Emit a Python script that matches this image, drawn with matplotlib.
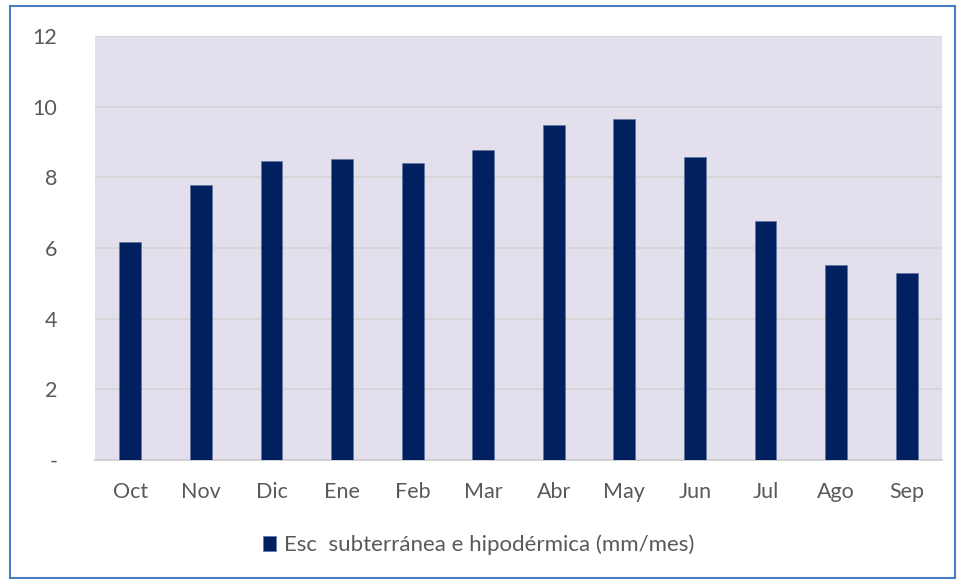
import matplotlib
matplotlib.use("Agg")
import matplotlib.pyplot as plt
from matplotlib.patches import Rectangle

months = ["Oct", "Nov", "Dic", "Ene", "Feb", "Mar", "Abr", "May", "Jun", "Jul", "Ago", "Sep"]
esc = [6.17, 7.78, 8.46, 8.52, 8.41, 8.77, 9.48, 9.65, 8.58, 6.76, 5.52, 5.29]
yticks = [0, 2, 4, 6, 8, 10, 12]
ytick_labels = ["-", "2", "4", "6", "8", "10", "12"]

plt.rcParams["font.family"] = ["Lato", "DejaVu Sans"]
txt = "#595959"

fig = plt.figure(figsize=(9.57, 5.79), dpi=100)
ax = fig.add_axes([95 / 957, 1 - 460 / 579, 847 / 957, 424 / 579])
ax.set_facecolor("#E4DFEC")

x = range(len(months))
ax.bar(x, esc, width=0.31, color="#002060", edgecolor="#5A6FA0", linewidth=0.4,
       label="Esc  subterránea e hipodérmica (mm/mes)", zorder=3)

ax.set_xlim(-0.5, len(months) - 0.5)
ax.set_ylim(0, 12)
ax.set_yticks(yticks)
ax.set_yticklabels(ytick_labels)
ax.set_xticks(list(x))
ax.set_xticklabels(months)
ax.grid(axis="y", color="#D6D6D6", linewidth=1.4, zorder=0)
for s in ["top", "right", "left"]:
    ax.spines[s].set_visible(False)
ax.spines["bottom"].set_color("#D0D0D0")
ax.spines["bottom"].set_linewidth(1.4)
ax.tick_params(axis="both", length=0, labelsize=15.5, colors=txt)
ax.tick_params(axis="y", pad=27)
ax.tick_params(axis="x", pad=16)

leg = fig.legend(loc="center", bbox_to_anchor=(0.5, 1 - 545 / 579), frameon=False,
                 fontsize=16, handlelength=0.6, handleheight=0.6, handletextpad=0.35)
for t in leg.get_texts():
    t.set_color(txt)

# outer chart border
fig.add_artist(Rectangle((10 / 957, 1 - 578 / 579), 945 / 957, 572 / 579,
                         transform=fig.transFigure, fill=False,
                         edgecolor="#4A7BC8", linewidth=1.5))

fig.savefig("out.png", dpi=100)
